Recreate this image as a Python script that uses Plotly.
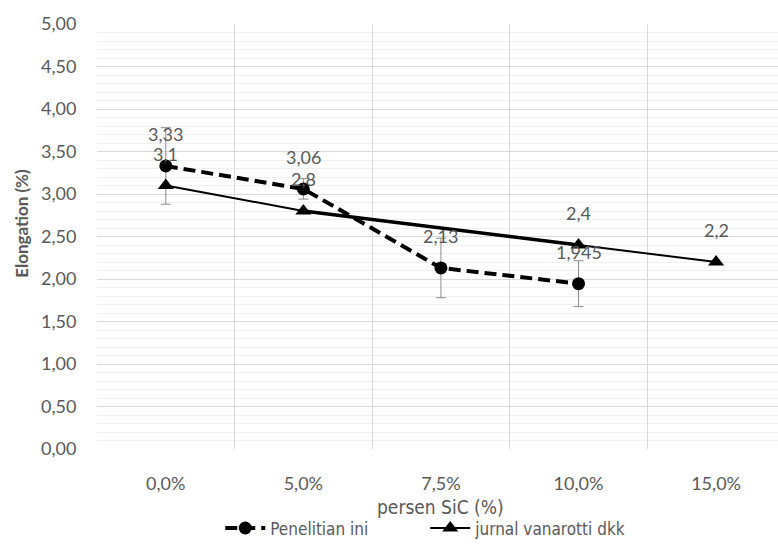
import plotly.graph_objects as go

# Category labels along the x axis (SiC content)
categories = ["0,0%", "5,0%", "7,5%", "10,0%", "15,0%"]

# Elongation values (%) for this study, with standard deviations
penelitian_x = ["0,0%", "5,0%", "7,5%", "10,0%"]
penelitian_y = [3.33, 3.06, 2.13, 1.945]
penelitian_err = [0.45, 0.12, 0.35, 0.27]

# Elongation values (%) from the Vanarotti et al. journal (no 7,5% sample)
jurnal_x = ["0,0%", "5,0%", "7,5%", "10,0%", "15,0%"]
jurnal_y = [3.1, 2.8, None, 2.4, 2.2]

y_tickvals = [0, 0.5, 1, 1.5, 2, 2.5, 3, 3.5, 4, 4.5, 5]

GRAY_TEXT = "#595959"
FONT = "Lato"
NARROW = "DejaVu Sans Condensed, Roboto, sans-serif"


def fmt(v):
    return f"{v:g}".replace(".", ",")


fig = go.Figure()

fig.add_trace(go.Scatter(
    x=penelitian_x, y=penelitian_y,
    mode="lines+markers",
    name="Penelitian ini",
    line=dict(color="black", width=4, dash="12px,6px"),
    marker=dict(symbol="circle", size=13, color="black"),
    error_y=dict(type="data", array=penelitian_err, visible=True,
                 color="#8c8c8c", thickness=1, width=5),
))

fig.add_trace(go.Scatter(
    x=jurnal_x, y=jurnal_y,
    mode="lines+markers",
    name="jurnal vanarotti dkk",
    connectgaps=True,
    line=dict(color="black", width=2),
    marker=dict(symbol="triangle-up", size=14, color="black"),
))

# The bridged segment across the missing 7,5% sample is drawn heavier
bridge_x = [jurnal_x[i] for i in (1, 3)]
bridge_y = [jurnal_y[i] for i in (1, 3)]
fig.add_trace(go.Scatter(
    x=bridge_x, y=bridge_y, mode="lines",
    line=dict(color="black", width=3.5),
    showlegend=False, hoverinfo="skip",
))

# Value labels above each point
annotations = []
for xs, ys in ((penelitian_x, penelitian_y), (jurnal_x, jurnal_y)):
    for xv, yv in zip(xs, ys):
        if yv is None:
            continue
        annotations.append(dict(
            x=xv, y=yv, xref="x", yref="y", text=fmt(yv),
            showarrow=False, yshift=32,
            font=dict(family=FONT, size=18, color=GRAY_TEXT),
        ))

# Axis titles
annotations.append(dict(
    xref="paper", yref="paper", x=0.504, y=-0.136,
    text="persen SiC (%)", showarrow=False,
    xanchor="center", yanchor="middle",
    font=dict(family=NARROW, size=19, color=GRAY_TEXT),
))
annotations.append(dict(
    xref="paper", yref="paper", x=-0.110, y=0.530,
    text="<b>Elongation (%)</b>", showarrow=False, textangle=-90,
    xanchor="center", yanchor="middle",
    font=dict(family=FONT, size=17, color=GRAY_TEXT),
))

fig.update_layout(
    width=778, height=547,
    margin=dict(l=97, r=0, t=24, b=95),
    paper_bgcolor="white", plot_bgcolor="white",
    separators=",.",
    annotations=annotations,
    legend=dict(
        orientation="h", x=0.482, y=-0.187,
        xanchor="center", yanchor="middle",
        font=dict(family=NARROW, size=17, color=GRAY_TEXT),
        itemwidth=40, entrywidth=150, tracegroupgap=0,
    ),
    xaxis=dict(
        type="category", categoryorder="array", categoryarray=categories,
        range=[-0.5, 4.45],
        tickson="boundaries", showgrid=True, gridcolor="#d9d9d9", gridwidth=1,
        ticks="", ticklabelstandoff=22,
        tickfont=dict(family=FONT, size=18, color=GRAY_TEXT),
        showline=False, zeroline=False, fixedrange=True,
    ),
    yaxis=dict(
        range=[0, 5], tickvals=y_tickvals, tickformat=".2f",
        showgrid=True, gridcolor="#d9d9d9", gridwidth=1,
        minor=dict(dtick=0.1, showgrid=True, gridcolor="#f0f0f0", gridwidth=1),
        ticks="outside", ticklen=16, tickcolor="rgba(0,0,0,0)",
        tickfont=dict(family=FONT, size=18, color=GRAY_TEXT),
        showline=False, zeroline=False, fixedrange=True,
    ),
    showlegend=True,
)

fig.write_html("out.html")
